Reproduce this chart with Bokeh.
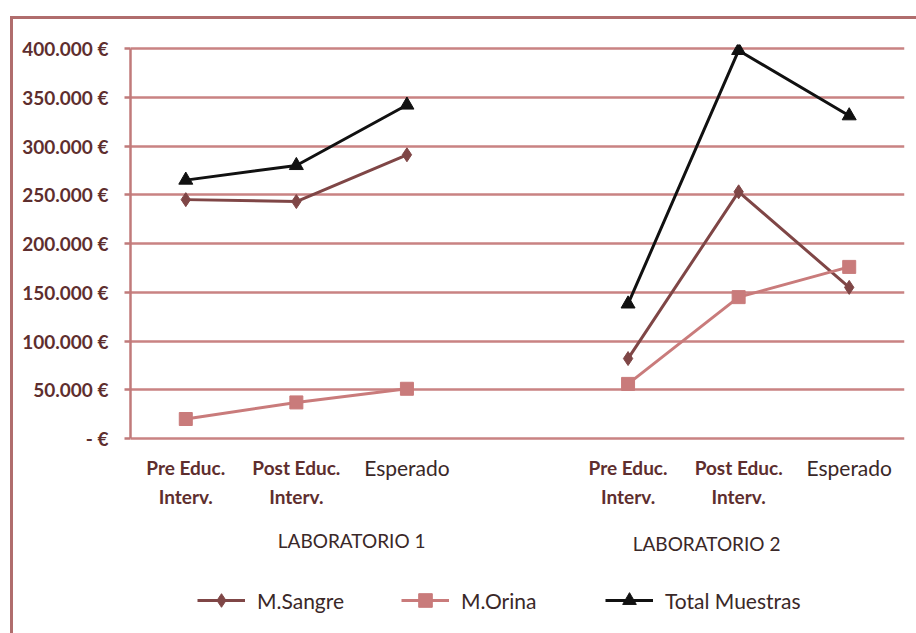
from bokeh.plotting import figure
from bokeh.models import (FixedTicker, Legend, LegendItem, Label,
                          ColumnDataSource, Range1d)
from bokeh.embed import file_html
from bokeh.resources import INLINE

# ---- data ----
slots = [0, 1, 2, 3, 4, 5, 6]          # slot 3 is the empty gap between the two labs
cat_slots = [0, 1, 2, 4, 5, 6]
cat_line1 = ["Pre Educ.", "Post Educ.", "Esperado", "Pre Educ.", "Post Educ.", "Esperado"]
cat_line2 = ["Interv.", "Interv.", "", "Interv.", "Interv.", ""]
groups = ["LABORATORIO 1", "LABORATORIO 2"]
group_x = [1.5, 4.71]
nan = float("nan")
sangre = [245000, 243000, 291000, nan, 82000, 253000, 155000]
orina = [20000, 37000, 51000, nan, 56000, 145000, 176000]
total = [265000, 280000, 342000, nan, 138000, 398000, 331000]
y_ticks = [0, 50000, 100000, 150000, 200000, 250000, 300000, 350000, 400000]
y_tick_labels = ["- €", "50.000 €", "100.000 €", "150.000 €", "200.000 €",
                 "250.000 €", "300.000 €", "350.000 €", "400.000 €"]
series_names = ["M.Sangre", "M.Orina", "Total Muestras"]

GRID = "#c98383"
AXIS = "#c07a7a"
C_SANGRE = "#7f4646"
C_ORINA = "#c97b7b"
C_TOTAL = "#111111"
TXT_BOLD = "#5e2e2e"
TXT = "#3a2828"
FONT = "Lato"

# pixel layout helpers: value axis 0 at row 438, 400.000 at row 48
PX_PER_UNIT = 390 / 400000
def row(py):
    return (438 - py) / PX_PER_UNIT

src = ColumnDataSource(dict(x=slots, sangre=sangre, orina=orina, total=total))

# figure is placed at (13, 19) in the page; frame spans x 130..904, rows 44..633
p = figure(width=903, height=614, output_backend="svg", toolbar_location=None,
           x_range=Range1d(-0.5, 6.5), y_range=Range1d(row(633), row(44)),
           min_border_left=117, min_border_right=12, min_border_top=25,
           min_border_bottom=0)
p.margin = (19, 0, 0, 13)
p.styles = {"outline": "3px solid #b06d6d", "outline-offset": "0px"}
p.outline_line_color = None
p.background_fill_color = "white"
p.border_fill_color = "white"
p.xaxis.visible = False

# grid
p.xgrid.visible = False
p.ygrid.ticker = FixedTicker(ticks=y_ticks)
p.ygrid.grid_line_color = GRID
p.ygrid.grid_line_width = 2.5

# y axis
p.yaxis.ticker = FixedTicker(ticks=y_ticks)
p.yaxis.bounds = (0, 400000)
p.yaxis.major_label_overrides = {t: l for t, l in zip(y_ticks, y_tick_labels)}
p.yaxis.axis_line_color = AXIS
p.yaxis.axis_line_width = 2.5
p.yaxis.major_tick_line_color = AXIS
p.yaxis.major_tick_line_width = 2.5
p.yaxis.major_tick_out = 6
p.yaxis.major_tick_in = 0
p.yaxis.minor_tick_line_color = None
p.yaxis.major_label_standoff = 16
p.yaxis.major_label_text_font = FONT
p.yaxis.major_label_text_font_style = "bold"
p.yaxis.major_label_text_font_size = "19px"
p.yaxis.major_label_text_color = TXT_BOLD

# series
l1 = p.line("x", "sangre", source=src, line_color=C_SANGRE, line_width=3)
m1 = p.scatter("x", "sangre", source=src, marker="diamond", size=14,
               fill_color=C_SANGRE, line_color=C_SANGRE)
l2 = p.line("x", "orina", source=src, line_color=C_ORINA, line_width=3)
m2 = p.scatter("x", "orina", source=src, marker="square", size=13,
               fill_color=C_ORINA, line_color=C_ORINA)
l3 = p.line("x", "total", source=src, line_color=C_TOTAL, line_width=3)
m3 = p.scatter("x", "total", source=src, marker="triangle", size=14,
               fill_color=C_TOTAL, line_color=C_TOTAL)

# category labels
for xs, t1, t2 in zip(cat_slots, cat_line1, cat_line2):
    bold = t2 != ""
    p.add_layout(Label(x=xs, y=row(467), text=t1, text_align="center",
                       text_baseline="middle", text_font=FONT,
                       text_font_style="bold" if bold else "normal",
                       text_font_size="19px" if bold else "21px",
                       text_color=TXT_BOLD if bold else TXT))
    if t2:
        p.add_layout(Label(x=xs, y=row(496), text=t2, text_align="center",
                           text_baseline="middle", text_font=FONT,
                           text_font_style="bold", text_font_size="19px",
                           text_color=TXT_BOLD))

# group labels
for gx, g, gy in zip(group_x, groups, [540, 543]):
    p.add_layout(Label(x=gx, y=row(gy), text=g, text_align="center",
                       text_baseline="middle", text_font=FONT, text_font_size="19px",
                       text_color=TXT))

# legend
legend = Legend(items=[LegendItem(label=series_names[0], renderers=[l1, m1]),
                       LegendItem(label=series_names[1], renderers=[l2, m2]),
                       LegendItem(label=series_names[2], renderers=[l3, m3])],
                orientation="horizontal", location=(67, 16),
                glyph_width=48, glyph_height=34, label_standoff=12, spacing=0,
                label_width=144, padding=0, margin=0,
                border_line_alpha=0, background_fill_alpha=0,
                label_text_font=FONT, label_text_font_size="21px",
                label_text_color=TXT)
p.add_layout(legend)

open("out.html", "w").write(file_html(p, INLINE))
